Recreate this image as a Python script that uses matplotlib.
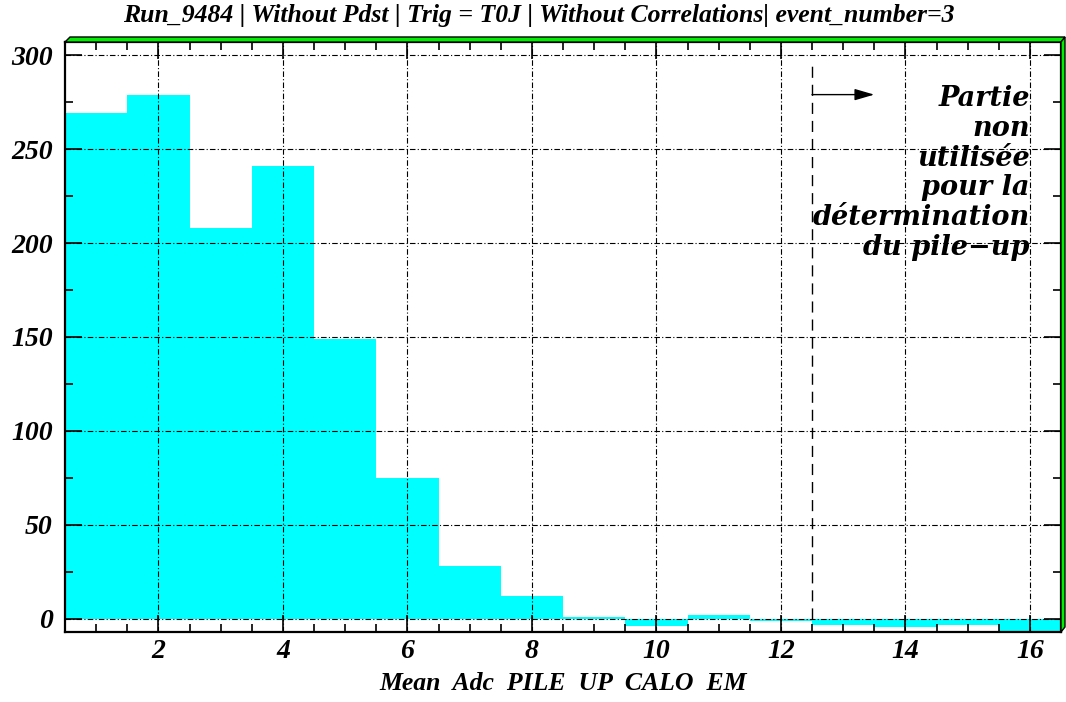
import numpy as np
import matplotlib
matplotlib.use("Agg")
import matplotlib.pyplot as plt
from matplotlib.patches import Polygon
from matplotlib.ticker import MultipleLocator
from matplotlib.font_manager import FontProperties

# contenu des bins (centres 1..16, largeur 1)
bin_centers = np.arange(1, 17)
counts = [269, 279, 208, 241, 149, 75, 28, 12, 1, -4, 2, -1.4, -3.5, -4.4, -3.5, -10]

title = "Run_9484 | Without Pdst | Trig = T0J | Without Correlations| event_number=3"
xlabel = "Mean  Adc  PILE  UP  CALO  EM"
note_lines = ["Partie", "non", "utilisée", "pour la", "détermination", "du pile\u2212up"]
cut_x = 12.5

fig = plt.figure(figsize=(10.66, 7.02), dpi=100)
ax = fig.add_axes([65 / 1066, 70 / 702, 996 / 1066, 590 / 702])

times = dict(family="Liberation Serif", weight="bold", style="italic")

ax.bar(bin_centers, counts, width=1.0, color="#00ffff", linewidth=0, zorder=1)

ax.set_xlim(0.5, 16.5)
ax.set_ylim(-7, 307)

ax.xaxis.set_major_locator(MultipleLocator(2))
ax.xaxis.set_minor_locator(MultipleLocator(0.5))
ax.yaxis.set_major_locator(MultipleLocator(50))
ax.yaxis.set_minor_locator(MultipleLocator(25))
ax.tick_params(which="both", direction="in", top=True, right=True, width=1.2)
ax.tick_params(which="major", length=12)
ax.tick_params(which="minor", length=6)
ax.tick_params(axis="x", which="major", pad=5)
ax.tick_params(axis="y", which="major", pad=9)

for lab in ax.get_xticklabels() + ax.get_yticklabels():
    lab.set_fontproperties(FontProperties(size=20, **times))

ax.grid(True, which="major", color="black", linewidth=0.8,
        linestyle=(0, (5, 2, 1, 2)), zorder=3)
ax.set_axisbelow(False)

for s in ax.spines.values():
    s.set_linewidth(1.6)
    s.set_zorder(4)

ax.set_xlabel(xlabel, fontsize=18.5, labelpad=6, **times)
fig.text(0.505, 0.995, title, ha="center", va="top", fontsize=18.5, **times)

# ligne de coupure et fleche
ax.plot([cut_x, cut_x], [0, 294], color="black", linewidth=1.0,
        linestyle=(0, (8, 5)), zorder=3)
ax.annotate("", xy=(cut_x + 1.0, 279), xytext=(cut_x, 279),
            arrowprops=dict(arrowstyle="-|>,head_length=1.2,head_width=0.35",
                            color="black", linewidth=1.0, shrinkA=0, shrinkB=0),
            zorder=3)
ax.text(16.0, 284, "\n".join(note_lines), ha="right", va="top", fontsize=19.5,
        family="DejaVu Serif", weight="bold", style="italic", linespacing=1.13,
        zorder=5)

# cadre vert facon ROOT
fig.patches.append(Polygon([(65, 660), (1061, 660), (1065, 665), (70, 665)],
                           closed=True, transform=None, facecolor="#00ee00",
                           edgecolor="black", linewidth=1.0))
fig.patches.append(Polygon([(1061, 70), (1065, 75), (1065, 665), (1061, 660)],
                           closed=True, transform=None, facecolor="#00ee00",
                           edgecolor="black", linewidth=1.0))

fig.savefig("out.png", dpi=100)
